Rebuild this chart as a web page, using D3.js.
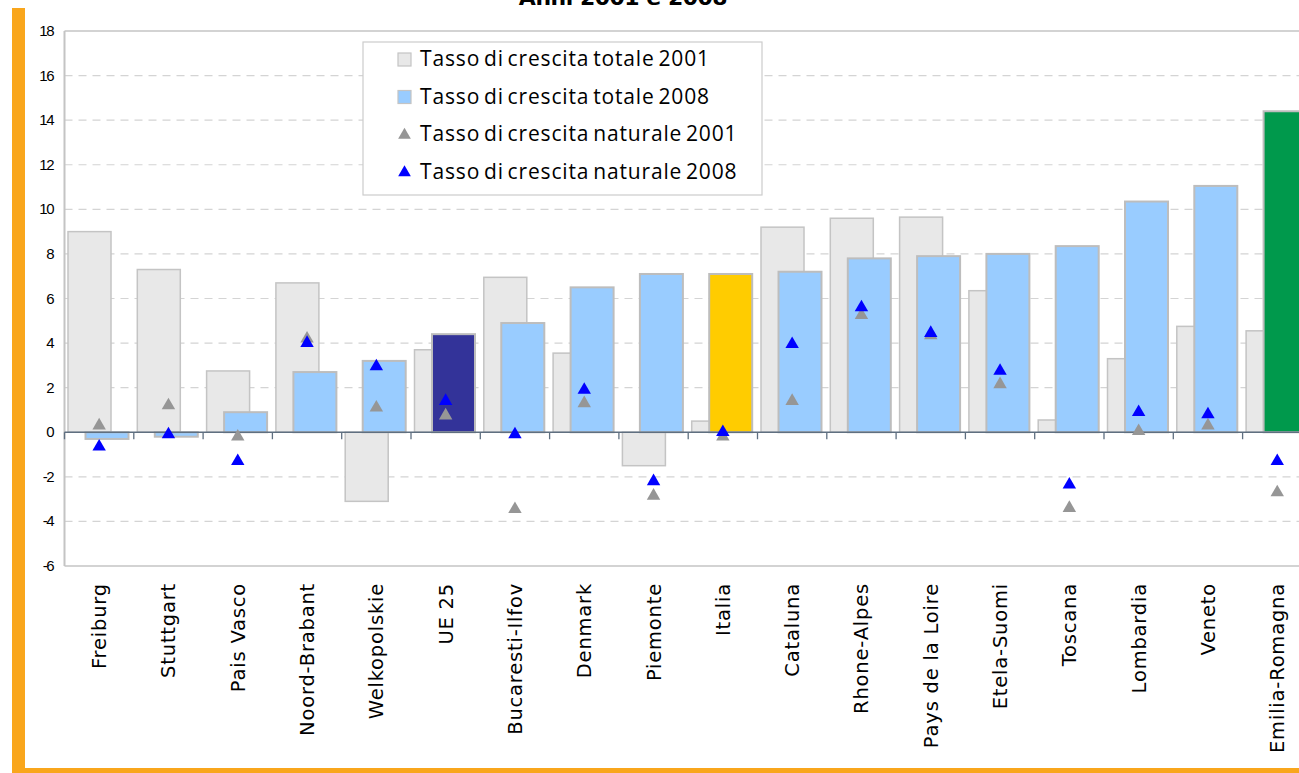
<!DOCTYPE html>
<html>
<head>
<meta charset="utf-8">
<script src="https://cdn.jsdelivr.net/npm/d3@7"></script>
<style>
  body { margin: 0; background: #fff; overflow: hidden; }
  text { font-family: "Liberation Sans", Arial, sans-serif; }
</style>
</head>
<body>
<script>
//dims
const width = 1299, height = 773;

// data
const regions = ['Freiburg','Stuttgart','Pais Vasco','Noord-Brabant','Welkopolskie','UE 25','Bucaresti-Ilfov','Denmark','Piemonte','Italia','Cataluna','Rhone-Alpes','Pays de la Loire','Etela-Suomi','Toscana','Lombardia','Veneto','Emilia-Romagna'];
const totale2001   = [9.0, 7.3, 2.75, 6.7, -3.1, 3.7, 6.95, 3.55, -1.5, 0.5, 9.2, 9.6, 9.65, 6.35, 0.55, 3.3, 4.75, 4.55];
const totale2008   = [-0.3, -0.2, 0.9, 2.7, 3.2, 4.4, 4.9, 6.5, 7.1, 7.1, 7.2, 7.8, 7.9, 8.0, 8.35, 10.35, 11.05, 14.4];
const naturale2001 = [0.3, 1.2, -0.2, 4.2, 1.1, 0.75, -3.45, 1.3, -2.85, -0.2, 1.4, 5.25, 4.35, 2.15, -3.4, 0.05, 0.3, -2.7];
const naturale2008 = [-0.65, -0.1, -1.3, 4.0, 2.95, 1.4, -0.1, 1.9, -2.2, 0.0, 3.95, 5.6, 4.45, 2.75, -2.35, 0.9, 0.8, -1.3];
const yTicks = [18, 16, 14, 12, 10, 8, 6, 4, 2, 0, -2, -4, -6];
const legendLabels = ['Tasso di crescita totale 2001','Tasso di crescita totale 2008','Tasso di crescita naturale 2001','Tasso di crescita naturale 2008'];
const title = 'Anni 2001 e 2008';

// highlighted 2008 bars
const specialFill = { 'UE 25': '#333399', 'Italia': '#ffcc00', 'Emilia-Romagna': '#00994c' };

const svg = d3.select('body').append('svg')
    .attr('width', width)
    .attr('height', height);

//orange frame
svg.append('rect').attr('x', 12).attr('y', 8).attr('width', 13).attr('height', height - 8).attr('fill', '#f9a61c');
svg.append('rect').attr('x', 12).attr('y', 768).attr('width', width - 12).attr('height', 5).attr('fill', '#f9a61c');

//title (cut by the top edge, as in the source)
svg.append('text')
    .attr('x', 623).attr('y', 5)
    .attr('text-anchor', 'middle')
    .style('font-family', '"DejaVu Sans", sans-serif')
    .style('font-size', '22px').style('font-weight', 'bold').style('letter-spacing', '-0.5px')
    .text(title);

// scales
const plotLeft = 64.5, band = 69.3;
const x = d3.scaleBand()
    .domain(regions)
    .range([plotLeft, plotLeft + band * regions.length]);
const y = d3.scaleLinear().domain([-6, 18]).range([566, 31]);

const g = svg.append('g');

//grid
g.selectAll('.grid')
    .data(yTicks.filter(d => d !== 0 && d !== 18 && d !== -6))
  .enter().append('line')
    .attr('x1', plotLeft).attr('x2', width)
    .attr('y1', d => y(d)).attr('y2', d => y(d))
    .attr('stroke', '#d4d4d4').attr('stroke-width', 1.2)
    .attr('stroke-dasharray', '8,6');

//frame lines
g.append('line').attr('x1', plotLeft).attr('x2', width).attr('y1', y(18)).attr('y2', y(18)).attr('stroke', '#c4c4c4').attr('stroke-width', 1.5);
g.append('line').attr('x1', plotLeft).attr('x2', width).attr('y1', y(-6)).attr('y2', y(-6)).attr('stroke', '#c4c4c4').attr('stroke-width', 1.5);
g.append('line').attr('x1', plotLeft).attr('x2', plotLeft).attr('y1', y(18)).attr('y2', y(-6)).attr('stroke', '#c4c4c4').attr('stroke-width', 2);

//y labels
g.selectAll('.ylab')
    .data(yTicks)
  .enter().append('text')
    .attr('x', 53).attr('y', d => y(d) + 5)
    .attr('text-anchor', 'end')
    .style('font-size', '15px').style('letter-spacing', '-1.5px')
    .text(d => d);

const barW = 43, off01 = 3.5, off08 = 21;

//2001 bars
g.selectAll('.b01')
    .data(regions)
  .enter().append('rect')
    .attr('x', d => x(d) + off01)
    .attr('width', barW)
    .attr('y', (d, i) => y(Math.max(0, totale2001[i])))
    .attr('height', (d, i) => Math.abs(y(totale2001[i]) - y(0)))
    .attr('fill', '#e8e8e8').attr('stroke', '#c4c4c4').attr('stroke-width', 1.5);

//2008 bars
g.selectAll('.b08')
    .data(regions)
  .enter().append('rect')
    .attr('x', d => x(d) + off08)
    .attr('width', barW)
    .attr('y', (d, i) => y(Math.max(0, totale2008[i])))
    .attr('height', (d, i) => Math.abs(y(totale2008[i]) - y(0)))
    .attr('fill', d => specialFill[d] || '#99ccff').attr('stroke', '#bdbdbd').attr('stroke-width', 2);

//zero axis + ticks
g.append('line').attr('x1', plotLeft).attr('x2', width).attr('y1', y(0)).attr('y2', y(0)).attr('stroke', '#5f6f80').attr('stroke-width', 1.3);
g.selectAll('.tick')
    .data(regions)
  .enter().append('line')
    .attr('x1', d => x(d)).attr('x2', d => x(d))
    .attr('y1', y(0)).attr('y2', y(0) + 7)
    .attr('stroke', '#5f6f80').attr('stroke-width', 1.3);

//triangles
const tri = d3.symbol().type(d3.symbolTriangle).size(78);
g.selectAll('.n01')
    .data(regions)
  .enter().append('path')
    .attr('d', tri)
    .attr('transform', (d, i) => `translate(${x(d) + band / 2},${y(naturale2001[i])})`)
    .attr('fill', '#969696');
g.selectAll('.n08')
    .data(regions)
  .enter().append('path')
    .attr('d', tri)
    .attr('transform', (d, i) => `translate(${x(d) + band / 2},${y(naturale2008[i])})`)
    .attr('fill', '#0000ff');

//category labels
g.selectAll('.xlab')
    .data(regions)
  .enter().append('text')
    .attr('transform', d => `translate(${x(d) + band / 2 + 7},583) rotate(-90)`)
    .attr('text-anchor', 'end')
    .style('font-family', '"DejaVu Sans", sans-serif')
    .style('font-size', '19.5px').style('letter-spacing', '0.8px')
    .text(d => d);

//legend
const legend = svg.append('g').attr('transform', 'translate(363,42)');
legend.append('rect')
    .attr('width', 399).attr('height', 153)
    .attr('fill', '#fff').attr('stroke', '#cccccc').attr('stroke-width', 1.2);
const legFill = ['#e8e8e8', '#99ccff', '#969696', '#0000ff'];
legendLabels.forEach((lab, i) => {
  const cy = 17 + i * 37.5;
  if (i < 2) {
    legend.append('rect')
      .attr('x', 35).attr('y', cy - 6).attr('width', 13).attr('height', 13)
      .attr('fill', legFill[i]).attr('stroke', '#c4c4c4').attr('stroke-width', 1.2);
  } else {
    legend.append('path')
      .attr('d', d3.symbol().type(d3.symbolTriangle).size(70))
      .attr('transform', `translate(41.5,${cy + 1})`)
      .attr('fill', legFill[i]);
  }
  legend.append('text')
    .attr('x', 57).attr('y', cy + 7)
    .style('font-family', '"Open Sans", sans-serif')
    .style('font-size', '21px').style('letter-spacing', '0.85px').style('word-spacing', '-2.5px')
    .text(lab);
});
</script>
</body>
</html>
